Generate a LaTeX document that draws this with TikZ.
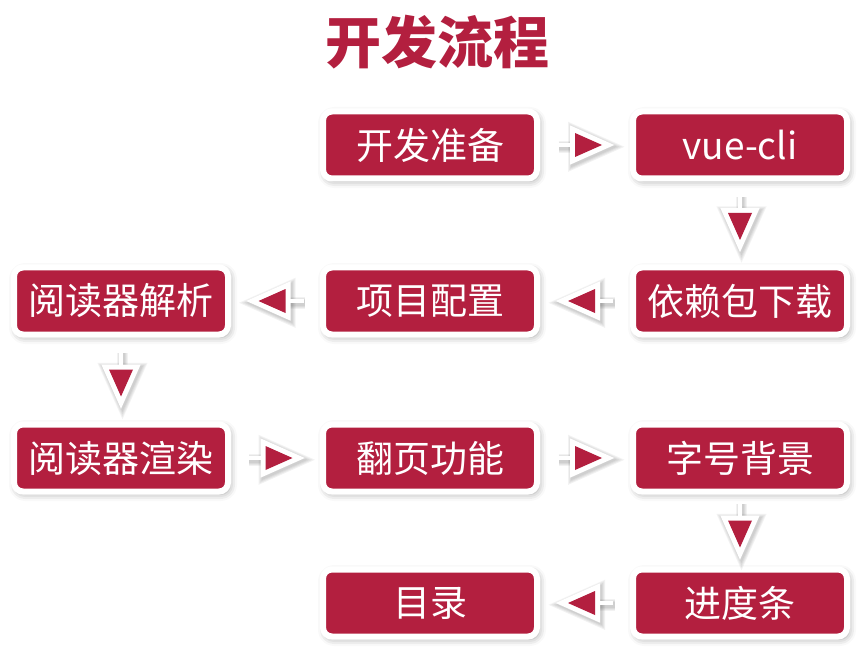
\documentclass[tikz,border=0pt]{standalone}
\usepackage{fontspec}
\newfontfamily\cjk{Noto Sans CJK SC}
\usetikzlibrary{calc,shadows.blur}
\definecolor{crimson}{HTML}{B31F3F}
\tikzset{
  stepbox/.style={rectangle, rounded corners=9pt, fill=crimson, draw=white, line width=6pt,
    minimum width=214pt, minimum height=67pt, inner sep=0pt, text=white,
    font=\cjk\fontsize{37}{40}\selectfont,
    blur shadow={shadow xshift=2pt, shadow yshift=-2.5pt, shadow blur radius=7pt, shadow opacity=38}},
  titletext/.style={text=crimson, font=\cjk\bfseries\fontsize{56}{60}\selectfont, inner sep=0pt},
  fakeshadow/.style={draw=black, opacity=0.05, line join=miter, miter limit=3},
  flowarrow/.pic={
    \begin{scope}[transform canvas={xshift=1.5pt, yshift=-1.8pt}]
    \foreach \w in {17,15,13,11}{
      \path[fakeshadow, line width=\w pt] (-10,-12) -- (17,0) -- (-10,12) -- cycle;
      \path[fakeshadow, line width=\w pt-5.5pt] (-28,0) -- (-12,0);
    }
    \end{scope}
    \draw[white, line width=4.5pt] (-28,0) -- (-10,0);
    \path[fill=white, draw=white, line width=10pt, miter limit=3]
      (-10,-12) -- (17,0) -- (-10,12) -- cycle;
    \fill[crimson] (-10,-12) -- (17,0) -- (-10,12) -- cycle;
  }
}
\begin{document}
\begin{tikzpicture}[x=1pt,y=-1pt]
\useasboundingbox (0,0) rectangle (867,652);
\node[titletext] (title) at (437,42) {开发流程};
\node[stepbox] (a) at (430,145) {开发准备};
\node[stepbox] (b) at (740,145) {vue-cli};
\node[stepbox] (c) at (740,301) {依赖包下载};
\node[stepbox] (d) at (430,301) {项目配置};
\node[stepbox] (e) at (121,301) {阅读器解析};
\node[stepbox] (f) at (121,458) {阅读器渲染};
\node[stepbox] (g) at (430,458) {翻页功能};
\node[stepbox] (h) at (740,458) {字号背景};
\node[stepbox] (i) at (740,603) {进度条};
\node[stepbox] (j) at (430,603) {目录};
\pic at ($(a)!0.5!(b)$) {flowarrow};
\pic[rotate=-90] at ($(b)!0.5!(c)$) {flowarrow};
\pic[rotate=180] at ($(c)!0.5!(d)$) {flowarrow};
\pic[rotate=180] at ($(d)!0.5!(e)$) {flowarrow};
\pic[rotate=-90] at ($(e)!0.5!(f)$) {flowarrow};
\pic at ($(f)!0.5!(g)$) {flowarrow};
\pic at ($(g)!0.5!(h)$) {flowarrow};
\pic[rotate=-90] at ($(h)!0.5!(i)$) {flowarrow};
\pic[rotate=180] at ($(i)!0.5!(j)$) {flowarrow};
\end{tikzpicture}
\end{document}
